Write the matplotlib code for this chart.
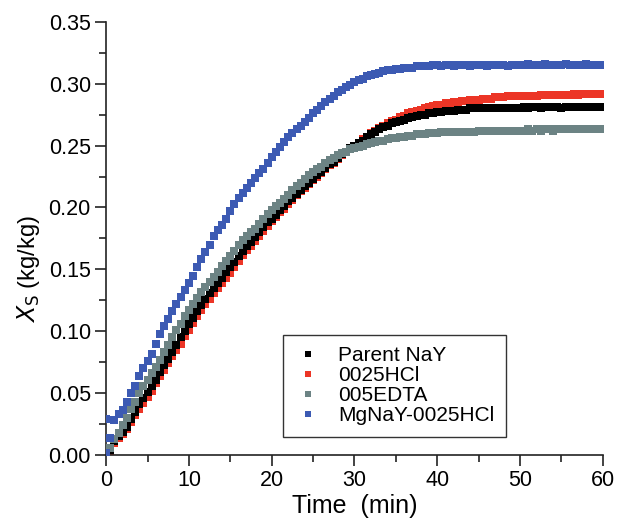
import numpy as np
import matplotlib
matplotlib.use("Agg")
import matplotlib.pyplot as plt
from matplotlib.ticker import MultipleLocator

plt.rcParams['font.family'] = ['Liberation Sans', 'DejaVu Sans']

# sampling time of the uptake curves (min)
time = np.arange(0, 60.5, 0.5)

parent_nay = [
    0.000, 0.004, 0.011, 0.015, 0.019, 0.023, 0.029, 0.035, 0.041, 0.046,
    0.051, 0.056, 0.061, 0.067, 0.073, 0.078, 0.083, 0.089, 0.095, 0.100,
    0.106, 0.111, 0.116, 0.121, 0.126, 0.131, 0.135, 0.139, 0.143, 0.148,
    0.152, 0.156, 0.161, 0.165, 0.169, 0.172, 0.176, 0.180, 0.184, 0.188,
    0.191, 0.194, 0.198, 0.201, 0.205, 0.208, 0.211, 0.214, 0.217, 0.220,
    0.223, 0.226, 0.229, 0.232, 0.235, 0.237, 0.240, 0.243, 0.245, 0.248,
    0.250, 0.252, 0.254, 0.257, 0.259, 0.261, 0.263, 0.265, 0.266, 0.268,
    0.269, 0.270, 0.271, 0.272, 0.273, 0.274, 0.275, 0.275, 0.276, 0.276,
    0.277, 0.277, 0.278, 0.278, 0.278, 0.279, 0.279, 0.279, 0.280, 0.280,
    0.280, 0.280, 0.280, 0.280, 0.280, 0.280, 0.280, 0.280, 0.280, 0.280,
    0.280, 0.281, 0.280, 0.281, 0.281, 0.280, 0.281, 0.281, 0.281, 0.281,
    0.280, 0.281, 0.281, 0.281, 0.281, 0.281, 0.281, 0.281, 0.281, 0.281,
    0.281,
]

hcl_0025 = [
    0.000, 0.003, 0.010, 0.014, 0.017, 0.021, 0.027, 0.032, 0.037, 0.042,
    0.047, 0.052, 0.058, 0.064, 0.069, 0.074, 0.080, 0.085, 0.090, 0.096,
    0.101, 0.107, 0.112, 0.117, 0.122, 0.126, 0.131, 0.135, 0.139, 0.143,
    0.147, 0.152, 0.157, 0.162, 0.166, 0.169, 0.173, 0.177, 0.181, 0.185,
    0.189, 0.192, 0.196, 0.199, 0.203, 0.206, 0.210, 0.213, 0.216, 0.219,
    0.222, 0.225, 0.228, 0.231, 0.234, 0.236, 0.239, 0.242, 0.245, 0.247,
    0.250, 0.252, 0.255, 0.257, 0.260, 0.262, 0.264, 0.266, 0.268, 0.270,
    0.271, 0.273, 0.274, 0.276, 0.277, 0.278, 0.279, 0.280, 0.281, 0.282,
    0.283, 0.283, 0.284, 0.284, 0.285, 0.285, 0.286, 0.286, 0.287, 0.287,
    0.287, 0.288, 0.288, 0.288, 0.289, 0.289, 0.289, 0.290, 0.290, 0.290,
    0.290, 0.290, 0.290, 0.290, 0.290, 0.291, 0.291, 0.291, 0.291, 0.291,
    0.291, 0.291, 0.291, 0.292, 0.291, 0.292, 0.292, 0.292, 0.292, 0.292,
    0.292,
]

edta_005 = [
    0.000, 0.006, 0.013, 0.018, 0.024, 0.030, 0.037, 0.043, 0.050, 0.056,
    0.061, 0.066, 0.071, 0.077, 0.083, 0.089, 0.095, 0.101, 0.106, 0.112,
    0.117, 0.122, 0.127, 0.132, 0.136, 0.140, 0.144, 0.148, 0.153, 0.157,
    0.161, 0.165, 0.170, 0.174, 0.177, 0.180, 0.183, 0.187, 0.191, 0.195,
    0.198, 0.201, 0.204, 0.207, 0.210, 0.214, 0.217, 0.220, 0.223, 0.226,
    0.229, 0.231, 0.233, 0.236, 0.238, 0.240, 0.242, 0.244, 0.245, 0.247,
    0.248, 0.249, 0.250, 0.251, 0.252, 0.253, 0.254, 0.254, 0.255, 0.256,
    0.256, 0.257, 0.257, 0.258, 0.258, 0.259, 0.259, 0.259, 0.260, 0.260,
    0.260, 0.261, 0.261, 0.261, 0.261, 0.261, 0.261, 0.261, 0.261, 0.261,
    0.262, 0.262, 0.262, 0.262, 0.262, 0.262, 0.262, 0.262, 0.262, 0.262,
    0.262, 0.262, 0.263, 0.262, 0.263, 0.262, 0.263, 0.263, 0.262, 0.263,
    0.263, 0.263, 0.263, 0.263, 0.263, 0.263, 0.263, 0.263, 0.263, 0.263,
    0.263,
]

# first reading of the Mg sample sits above the rest (t = 0)
mg_time = np.concatenate([[0.0], time])
mg_nay_0025hcl = [
    0.029,
    0.002, 0.014, 0.028, 0.033, 0.036, 0.043, 0.050, 0.056, 0.064, 0.070,
    0.076, 0.082, 0.090, 0.098, 0.104, 0.110, 0.116, 0.122, 0.128, 0.133,
    0.139, 0.145, 0.152, 0.158, 0.164, 0.170, 0.177, 0.182, 0.186, 0.191,
    0.197, 0.203, 0.208, 0.212, 0.216, 0.220, 0.224, 0.228, 0.231, 0.236,
    0.241, 0.245, 0.249, 0.253, 0.257, 0.260, 0.263, 0.266, 0.269, 0.272,
    0.276, 0.279, 0.282, 0.285, 0.288, 0.290, 0.293, 0.295, 0.297, 0.299,
    0.301, 0.303, 0.304, 0.306, 0.307, 0.308, 0.309, 0.310, 0.311, 0.311,
    0.312, 0.312, 0.313, 0.313, 0.313, 0.314, 0.314, 0.314, 0.314, 0.315,
    0.315, 0.314, 0.315, 0.315, 0.314, 0.315, 0.315, 0.315, 0.314, 0.315,
    0.315, 0.315, 0.314, 0.315, 0.315, 0.315, 0.315, 0.314, 0.315, 0.315,
    0.315, 0.315, 0.316, 0.315, 0.315, 0.315, 0.316, 0.315, 0.315, 0.315,
    0.315, 0.316, 0.315, 0.315, 0.315, 0.315, 0.316, 0.315, 0.315, 0.315,
    0.315,
]

fig = plt.figure(figsize=(6.17, 5.31), dpi=100)
ax = fig.add_axes([0.172, 0.143, 0.805, 0.816])

ms = 5.4
ax.plot(time, parent_nay, 's', ms=ms, mew=0, color='black', label='Parent NaY', zorder=3)
ax.plot(time, hcl_0025, 's', ms=ms, mew=0, color='#ec3526', label='0025HCl', zorder=2)
ax.plot(time, edta_005, 's', ms=ms, mew=0, color='#6c8384', label='005EDTA', zorder=4)
ax.plot(mg_time, mg_nay_0025hcl, 's', ms=ms, mew=0, color='#3c5ab3', label='MgNaY-0025HCl', zorder=5)

ax.set_xlim(0, 60)
ax.set_ylim(0, 0.35)
ax.xaxis.set_major_locator(MultipleLocator(10))
ax.xaxis.set_minor_locator(MultipleLocator(5))
ax.yaxis.set_major_locator(MultipleLocator(0.05))
ax.yaxis.set_minor_locator(MultipleLocator(0.025))
ax.yaxis.set_major_formatter(matplotlib.ticker.FormatStrFormatter('%.2f'))

for side in ['top', 'right']:
    ax.spines[side].set_visible(False)
for side in ['left', 'bottom']:
    ax.spines[side].set_linewidth(1.2)
    ax.spines[side].set_color('#222222')

ax.tick_params(which='major', direction='out', length=8, width=1.2, labelsize=15.5, color='#222222', pad=3)
ax.tick_params(which='minor', direction='out', length=5, width=1.2, color='#222222')

ax.set_xlabel('Time  (min)', fontsize=18, labelpad=2)
ax.set_ylabel(r'$X_\mathrm{S}$ (kg/kg)', fontsize=17, labelpad=5)
ax.yaxis.set_label_coords(-0.13, 0.43)

leg = ax.legend(loc='lower left', bbox_to_anchor=(0.356, 0.042), fontsize=15,
                frameon=True, fancybox=False, edgecolor='black', borderpad=0.55,
                handlelength=1.3, handletextpad=0.8, labelspacing=0.05,
                markerscale=0.75, borderaxespad=0)
leg.get_frame().set_linewidth(1.0)

fig.savefig('out.png', dpi=100)
